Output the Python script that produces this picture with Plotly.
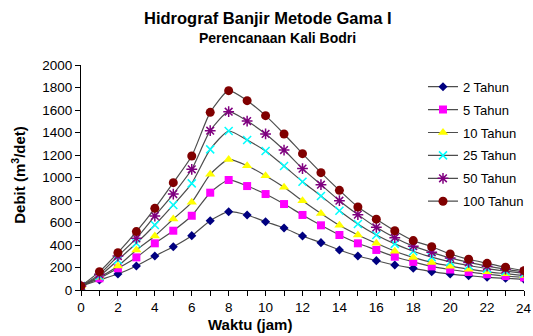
import plotly.graph_objects as go

jam = list(range(0, 25))
q2 = [35, 89, 142, 213, 302, 385, 483, 616, 696, 667, 607, 551, 480, 421, 356, 302, 261, 222, 193, 163, 142, 127, 113, 104, 95]
q5 = [35, 104, 193, 290, 415, 527, 660, 865, 978, 924, 853, 764, 667, 575, 489, 415, 356, 296, 250, 210, 182, 160, 140, 124, 112]
q10 = [35, 113, 213, 356, 480, 631, 779, 1028, 1161, 1105, 1016, 913, 794, 681, 575, 489, 415, 345, 290, 245, 212, 185, 162, 145, 128]
q25 = [35, 124, 267, 415, 578, 756, 948, 1250, 1413, 1333, 1236, 1102, 963, 836, 705, 587, 489, 410, 345, 292, 250, 218, 190, 168, 148]
q50 = [35, 139, 302, 459, 658, 853, 1073, 1416, 1585, 1502, 1387, 1244, 1079, 936, 794, 670, 557, 465, 390, 335, 285, 245, 212, 185, 162]
q100 = [35, 163, 332, 519, 726, 954, 1191, 1579, 1772, 1683, 1550, 1387, 1212, 1043, 886, 738, 630, 527, 439, 385, 320, 273, 237, 202, 172]

x_ticks = list(range(0, 25, 2))

series = [
    ("2 Tahun", q2, "diamond", "#000080", 7),
    ("5 Tahun", q5, "square", "#FF00FF", 8),
    ("10 Tahun", q10, "triangle-up", "#FFFF00", 9),
    ("25 Tahun", q25, "x-thin-open", "#00FFFF", 8),
    ("50 Tahun", q50, "asterisk-open", "#800080", 9),
    ("100 Tahun", q100, "circle", "#800000", 9),
]

FONT = "Liberation Sans, Arial, sans-serif"

fig = go.Figure()
for i, (name, vals, sym, col, sz) in enumerate(series):
    fig.add_trace(go.Scatter(
        x=jam, y=vals, name=name, mode="lines+markers",
        line=dict(color="#4d4d4d", width=1.2, shape="spline", smoothing=0.6),
        marker=dict(symbol=sym, color=col, size=sz,
                    line=dict(color=col, width=1.5 if "open" in sym else 0)),
        legendgroup=str(i),
    ))

fig.update_layout(
    width=533, height=336,
    margin=dict(l=81, r=4, t=65, b=46),
    paper_bgcolor="white", plot_bgcolor="white",
    font=dict(family=FONT, size=13, color="black"),
    showlegend=True,
    legend=dict(x=0.772, y=0.97, xanchor="left", yanchor="top",
                bgcolor="rgba(0,0,0,0)", font=dict(size=13, family=FONT),
                tracegroupgap=3, itemwidth=30, traceorder="grouped"),
    xaxis=dict(range=[0, 24], tickmode="array", tickvals=x_ticks[:-1],
               ticktext=[str(v) for v in x_ticks[:-1]],
               showgrid=False, zeroline=False, showline=True, linecolor="black",
               linewidth=1, ticks="outside", ticklen=5, tickcolor="black",
               minor=dict(dtick=1, tick0=0, ticks="outside", ticklen=5, tickcolor="black"),
               tickfont=dict(size=13.5, family=FONT)),
    yaxis=dict(range=[0, 2000], tickmode="linear", tick0=0, dtick=200,
               showgrid=False, zeroline=False, showline=True, linecolor="black",
               linewidth=1, ticks="outside", ticklen=5, tickcolor="black",
               tickfont=dict(size=13.5, family=FONT)),
    annotations=[
        dict(text="<b>Hidrograf Banjir Metode Gama I</b>", x=(270 - 81) / 448, y=(290 - 18) / 225,
             xref="paper", yref="paper", showarrow=False, font=dict(size=16.5, family=FONT),
             xanchor="center", yanchor="middle"),
        dict(text="<b>Perencanaan Kali Bodri</b>", x=(280 - 81) / 448, y=(290 - 38) / 225,
             xref="paper", yref="paper", showarrow=False, font=dict(size=14, family=FONT),
             xanchor="center", yanchor="middle"),
        dict(text="<b>Waktu (jam)</b>", x=(252 - 81) / 448, y=(290 - 324) / 225,
             xref="paper", yref="paper", showarrow=False, font=dict(size=15, family=FONT),
             xanchor="center", yanchor="middle"),
        dict(text="<b>Debit (m<sup>3</sup>/det)</b>", x=(17 - 81) / 448, y=(290 - 175) / 225,
             xref="paper", yref="paper", showarrow=False, font=dict(size=15, family=FONT),
             xanchor="center", yanchor="middle", textangle=-90),
        dict(text=str(x_ticks[-1]), x=x_ticks[-1], y=0, xref="x", yref="paper",
             yshift=-9, showarrow=False, font=dict(size=13.5, family=FONT),
             xanchor="center", yanchor="top"),
    ],
)

fig.write_html("out.html")
